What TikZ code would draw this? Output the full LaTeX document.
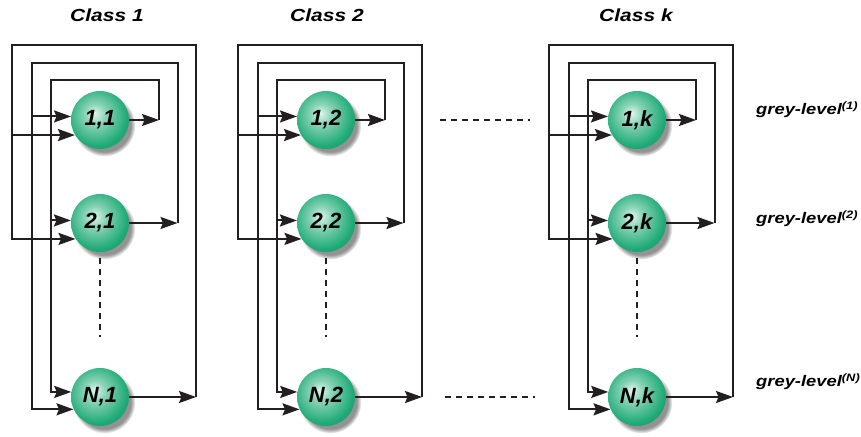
\documentclass[tikz,border=0pt]{standalone}
\usepackage{fontspec}
\setmainfont{Liberation Sans}
\newfontfamily\widesans{Liberation Sans}[FakeStretch=1.2]
\usetikzlibrary{arrows.meta,shadows}

\definecolor{ink}{HTML}{231F20}
\definecolor{ballhi}{RGB}{225,246,235}
\definecolor{ballmid}{RGB}{30,170,118}
\definecolor{ballrim}{RGB}{10,118,78}

% green sphere with a soft highlight slightly above the centre
\pgfdeclareradialshading{greenball}{\pgfpoint{-5bp}{6bp}}{%
  color(0bp)=(ballhi); color(9bp)=(ballmid!45!ballhi); color(26bp)=(ballmid);
  color(50bp)=(ballrim); color(62bp)=(ballrim)}

\begin{document}
\begin{tikzpicture}[x=1pt,y=-1pt,
  wire/.style={draw=ink, line width=2pt},
  arr/.style={wire, -{Stealth[length=17pt,width=12pt,inset=2.5pt]}},
  dashline/.style={draw=ink, line width=2pt, dash pattern=on 6pt off 5pt},
  ball/.style={circle, minimum size=58pt, inner sep=0pt, shading=greenball,
    circular drop shadow={shadow xshift=4pt, shadow yshift=-5pt, opacity=0.85, shadow scale=1.07},
    text=black, font=\fontsize{22}{24}\selectfont\bfseries\itshape},
  title/.style={font=\widesans\fontsize{17.5}{20}\selectfont\bfseries\itshape, inner sep=0pt},
  glabel/.style={font=\widesans\fontsize{15.3}{18}\selectfont\bfseries\itshape, inner sep=0pt, anchor=west}]
\useasboundingbox (0,0) rectangle (861,436);

\foreach \c/\x/\k/\tx in {1/12/1/107, 2/238/2/327, 3/549/k/636} {
  \node[title] (class\c) at (\tx,15) {Class \k};
  \node[ball] (n1x\c) at (\x+88,120) {1,\k};
  \node[ball] (n2x\c) at (\x+88,223) {2,\k};
  \node[ball] (nNx\c) at (\x+88,397) {N,\k};
  % top corners of the three feedback loops
  \coordinate (oLx\c) at (\x,45.5);
  \coordinate (mLx\c) at (\x+19.5,62.5);
  \coordinate (iLx\c) at (\x+39,79.5);
  \coordinate (iRx\c) at (\x+147,79.5);
  \coordinate (mRx\c) at (\x+165.5,62.5);
  \coordinate (oRx\c) at (\x+184,45.5);
  % inner loop: from row 1 back to rows 2 and N
  \draw[arr] (n1x\c.east) -- (n1x\c.east -| iRx\c);
  \draw[arr] (n1x\c.east -| iRx\c) -- (iRx\c) -- (iLx\c) |- (nNx\c.170);
  \draw[arr] (iLx\c |- n2x\c.175) -- (n2x\c.175);
  % middle loop: from row 2 back to rows 1 and N
  \draw[arr] (n2x\c.east) -- (n2x\c.east -| mRx\c);
  \draw[arr] (n2x\c.east -| mRx\c) -- (mRx\c) -- (mLx\c) |- (nNx\c.205);
  \draw[arr] (mLx\c |- n1x\c.173) -- (n1x\c.173);
  % outer loop: from row N back to rows 1 and 2
  \draw[arr] (nNx\c.east) -- (nNx\c.east -| oRx\c);
  \draw[arr] (nNx\c.east -| oRx\c) -- (oRx\c) -- (oLx\c) |- (n2x\c.213);
  \draw[arr] (oLx\c |- n1x\c.211) -- (n1x\c.211);
  % omitted rows
  \draw[dashline, shorten <=6pt, shorten >=31pt] (n2x\c.south) -- (nNx\c.north);
}

% omitted classes
\draw[dashline, shorten <=18pt, shorten >=19pt] (n1x2 -| oRx2) -- (n1x3 -| oLx3);
\draw[dashline, shorten <=23pt, shorten >=14pt] (nNx2 -| oRx2) -- (nNx3 -| oLx3);

\node[glabel] (g1) at (756,110) {grey-level\textsuperscript{(1)}};
\node[glabel] (g2) at (756,219) {grey-level\textsuperscript{(2)}};
\node[glabel] (gN) at (756,382) {grey-level\textsuperscript{(N)}};
\end{tikzpicture}
\end{document}
